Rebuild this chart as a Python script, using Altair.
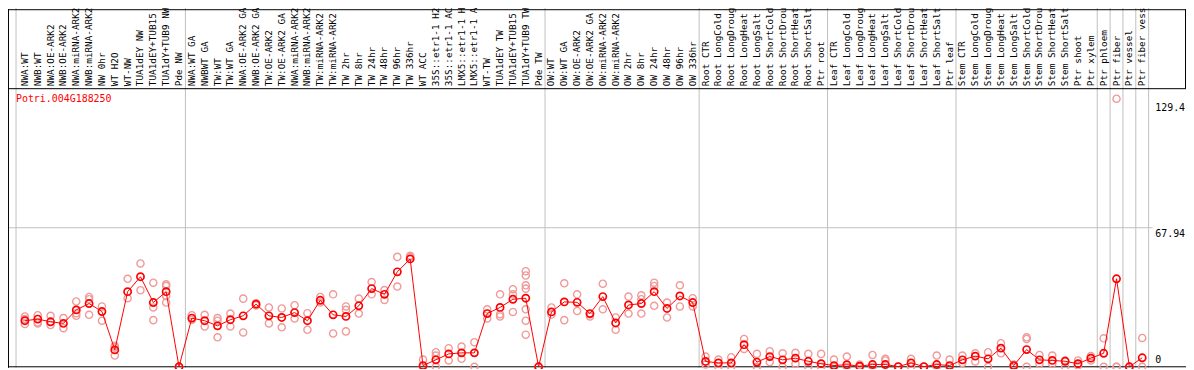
import altair as alt
import pandas as pd

labels = [
    "NWA:WT", "NWB:WT", "NWA:OE-ARK2", "NWB:OE-ARK2", "NWA:miRNA-ARK2", "NWB:miRNA-ARK2",
    "NW 0hr", "WT H2O", "WT-NW", "TUA1dEY NW", "TUA1dEY+TUB15", "TUA1dY+TUB9 NW", "Pde NW",
    "NWA:WT GA", "NWBWT GA", "TW:WT", "TW:WT GA", "NWA:OE-ARK2 GA", "NWB:OE-ARK2 GA",
    "TW:OE-ARK2", "TW:OE-ARK2 GA", "NWA:miRNA-ARK2", "NWB:miRNA-ARK2", "TW:miRNA-ARK2",
    "TW:miRNA-ARK2", "TW 2hr", "TW 8hr", "TW 24hr", "TW 48hr", "TW 96hr", "TW 336hr",
    "WT ACC", "35S::etr1-1 H2", "35S::etr1-1 AC", "LMX5::etr1-1 H", "LMX5::etr1-1 A",
    "WT-TW", "TUA1dEY TW", "TUA1dEY+TUB15", "TUA1dY+TUB9 TW", "Pde TW",
    "OW:WT", "OW:WT GA", "OW:OE-ARK2", "OW:OE-ARK2 GA", "OW:miRNA-ARK2", "OW:miRNA-ARK2",
    "OW 2hr", "OW 8hr", "OW 24hr", "OW 48hr", "OW 96hr", "OW 336hr",
    "Root CTR", "Root LongCold", "Root LongDroug", "Root LongHeat", "Root LongSalt",
    "Root ShortCold", "Root ShortDrou", "Root ShortHeat", "Root ShortSalt", "Ptr root",
    "Leaf CTR", "Leaf LongCold", "Leaf LongDroug", "Leaf LongHeat", "Leaf LongSalt",
    "Leaf ShortCold", "Leaf ShortDrou", "Leaf ShortHeat", "Leaf ShortSalt", "Ptr leaf",
    "Stem CTR", "Stem LongCold", "Stem LongDroug", "Stem LongHeat", "Stem LongSalt",
    "Stem ShortCold", "Stem ShortDrou", "Stem ShortHeat", "Stem ShortSalt", "Ptr shoot",
    "Ptr xylem", "Ptr phloem", "Ptr fiber", "Ptr vessel", "Ptr fiber vess",
]

means = [
    22.5, 23.3, 22.0, 21.2, 27.8, 30.9, 27.0, 8.25, 36.7, 44.0, 31.4, 36.7, 0.0,
    23.8, 22.5, 20.0, 23.0, 24.9, 30.6, 24.9, 24.1, 26.5, 22.5, 32.5, 25.4, 24.6,
    29.8, 38.2, 35.4, 46.4, 52.7, 0.6, 3.4, 6.3, 6.8, 6.8, 26.0, 29.0, 33.0, 33.5, 0.0,
    26.8, 31.7, 31.5, 26.0, 34.3, 21.4, 30.2, 30.9, 36.7, 28.5, 34.6, 31.4,
    2.6, 1.9, 1.9, 10.8, 2.3, 5.0, 3.4, 4.2, 2.7, 1.5,
    0.6, 1.0, 0.3, 1.1, 1.1, 0.1, 1.9, 0.1, 1.1, 0.6,
    3.4, 5.2, 3.9, 9.1, 0.6, 8.4, 3.4, 3.1, 2.7, 1.5, 4.2,
    6.6, 43.0, 0.0, 4.4,
]

replicates = [
    [24.6, 23.3, 20.9], [25.2, 21.7, 21.2], [24.9, 20.4], [23.8, 18.9],
    [31.9, 26.2, 24.9], [34.1, 33.0, 25.4], [29.5, 22.5], [10.3, 5.5, 9.5],
    [43.0, 33.5], [50.5, 37.4], [41.1, 29.0, 22.8], [40.3, 39.5, 34.6, 31.4], [0.0, 0.0],
    [25.2, 23.0], [25.4, 19.7], [23.8, 22.5, 14.4], [26.0, 19.7], [33.3, 16.8],
    [31.0, 30.0], [29.0, 21.2], [28.5, 19.3], [30.1, 23.6], [26.2, 18.1],
    [34.1, 31.4], [35.4, 16.3], [29.5, 27.8, 17.3], [33.3, 26.0], [41.4, 35.4],
    [37.5, 32.7], [53.7, 39.2], [54.3, 53.7], [3.5, 0.0], [7.1, 5.5, 0.0],
    [9.1, 3.1], [9.9, 3.9], [12.0, 0.0], [28.1, 23.6], [35.4, 25.7, 24.6],
    [37.9, 35.4, 26.8], [46.7, 44.6, 39.8, 38.2, 28.1, 22.5, 15.7], [0.0],
    [29.0, 25.5], [40.8, 22.8], [35.4, 27.3], [25.7, 24.6], [40.6, 28.1],
    [24.1, 18.1], [34.3, 26.0], [34.9, 33.0, 26.0], [41.1, 39.5, 29.8],
    [31.4, 24.1], [39.8, 29.5], [33.5, 29.5],
    [5.0, 1.1], [3.5, 0.0], [4.7, 0.0], [13.6, 8.7], [6.3, 0.0], [7.6, 2.3],
    [6.6, 0.0], [6.8, 1.5], [6.3, 0.0], [6.3, 0.0],
    [3.5, 0.0], [5.0, 0.0], [1.1, 0.0], [5.8, 0.0], [3.9, 3.1], [0.0],
    [3.9, 0.0], [0.0], [5.5, 0.0], [3.5, 0.0],
    [5.5, 1.9], [6.6, 2.6], [7.1, 0.0], [11.5, 6.6], [1.1, 0.0], [14.4, 13.6, 0.0],
    [5.8, 1.5], [5.5, 1.5], [3.1, 0.0], [3.1, 0.6], [5.2, 3.1],
    [13.9, 0.0], [131.0, 0.0, 0.0], [0.0], [14.1, 0.0],
]

group_sizes = [13, 28, 12, 10, 10, 11, 1, 1, 1, 1]
gene_name = "Potri.004G188250"
y_tick_values = [129.4, 67.94]
y_zero_label = "0"

# ---- layout (pixel geometry of the page) ----
W, H = 1186, 361
STEP = 12.93          # px per category
K = 2.0606            # px per expression unit
CAT0_PAGE_X = 25.0    # page x of first category
ZERO_PAGE_Y = 368.0   # page y of value 0
PAGE_OX, PAGE_OY = 8.0, 8.0


def px2x(page_x):
    return (page_x - CAT0_PAGE_X) / STEP


def py2v(page_y):
    return (ZERO_PAGE_Y - page_y) / K


XD = [px2x(PAGE_OX), px2x(PAGE_OX + W)]
YD = [py2v(PAGE_OY + H), py2v(PAGE_OY)]
xs = alt.Scale(domain=XD, nice=False, zero=False)
ys = alt.Scale(domain=YD, nice=False, zero=False)


def X(f="x"):
    return alt.X(f, type="quantitative", scale=xs, axis=None)


def Y(f="y"):
    return alt.Y(f, type="quantitative", scale=ys, axis=None)


MONO = "DejaVu Sans Mono"
HEADER_LINE_Y = py2v(88)
LABEL_START_Y = py2v(85.5)
TOP_Y = py2v(8.5)

# data tables
mean_df = pd.DataFrame({"x": list(range(len(means))), "y": means, "label": labels})
rep_rows = [{"x": i, "y": v} for i, rs in enumerate(replicates) for v in rs]
rep_df = pd.DataFrame(rep_rows)

seps = [-0.69]
acc = 0
for g in group_sizes:
    acc += g
    seps.append(acc - 0.5)
sep_df = pd.DataFrame({"x": seps, "y": [YD[0]] * len(seps), "y2": [TOP_Y + 1] * len(seps)})

hframe = pd.DataFrame({
    "x": [XD[0], XD[0], XD[0]],
    "x2": [XD[1], XD[1], XD[1]],
    "y": [TOP_Y, HEADER_LINE_Y, 0.0],
})
vframe = pd.DataFrame({
    "x": [px2x(8.5), px2x(1193.5)],
    "y": [YD[0], HEADER_LINE_Y],
    "y2": [YD[1], YD[1]],
})
grid_df = pd.DataFrame({"x": [XD[0]], "x2": [px2x(1160)], "y": [y_tick_values[1]]})

seps_layer = alt.Chart(sep_df).mark_rule(color="#c0c0c0", strokeWidth=1).encode(
    x=X(), y=Y(), y2="y2:Q")
grid_layer = alt.Chart(grid_df).mark_rule(color="#c0c0c0", strokeWidth=1).encode(
    x=X(), x2="x2:Q", y=Y())
hframe_layer = alt.Chart(hframe).mark_rule(color="black", strokeWidth=1).encode(
    x=X(), x2="x2:Q", y=Y())
vframe_layer = alt.Chart(vframe).mark_rule(color="black", strokeWidth=1).encode(
    x=X(), y=Y(), y2="y2:Q")

rep_layer = alt.Chart(rep_df).mark_point(
    shape="circle", filled=False, color="#f09a9a", size=52, strokeWidth=1.4, opacity=1
).encode(x=X(), y=Y())
line_layer = alt.Chart(mean_df).mark_line(color="#ff0000", strokeWidth=1).encode(
    x=X(), y=Y())
mean_layer = alt.Chart(mean_df).mark_point(
    shape="circle", filled=False, color="#ff0000", size=52, strokeWidth=1.7, opacity=1
).encode(x=X(), y=Y())

label_df = pd.DataFrame({"x": list(range(len(labels))), "label": labels,
                         "y": [LABEL_START_Y] * len(labels)})
label_layer = alt.Chart(label_df).mark_text(
    angle=270, align="left", baseline="middle", font=MONO, fontSize=9.4, color="black"
).encode(x=X(), y=Y(), text="label:N")

gene_df = pd.DataFrame({"x": [px2x(16)], "y": [py2v(101)], "t": [gene_name]})
gene_layer = alt.Chart(gene_df).mark_text(
    align="left", baseline="alphabetic", font=MONO, fontSize=10, color="#ff0000"
).encode(x=X(), y=Y(), text="t:N")

ytick_df = pd.DataFrame({"x": [px2x(1163)] * 2, "y": y_tick_values,
                         "t": ["129.4", "67.94"]})
ytick_layer = alt.Chart(ytick_df).mark_text(
    align="left", baseline="top", dy=1, font=MONO, fontSize=10, color="black"
).encode(x=X(), y=Y(), text="t:N")
yzero_df = pd.DataFrame({"x": [px2x(1163)], "y": [0.0], "t": [y_zero_label]})
yzero_layer = alt.Chart(yzero_df).mark_text(
    align="left", baseline="bottom", dy=-2, font=MONO, fontSize=10, color="black"
).encode(x=X(), y=Y(), text="t:N")

chart = alt.layer(
    seps_layer, grid_layer, hframe_layer, vframe_layer,
    rep_layer, line_layer, mean_layer,
    label_layer, gene_layer, ytick_layer, yzero_layer,
).properties(
    width=W, height=H, autosize=alt.AutoSizeParams(type="none"), padding=0,
    background="white",
).configure_view(stroke=None)

chart.save("out.html", embed_options={"renderer": "svg", "actions": False})
